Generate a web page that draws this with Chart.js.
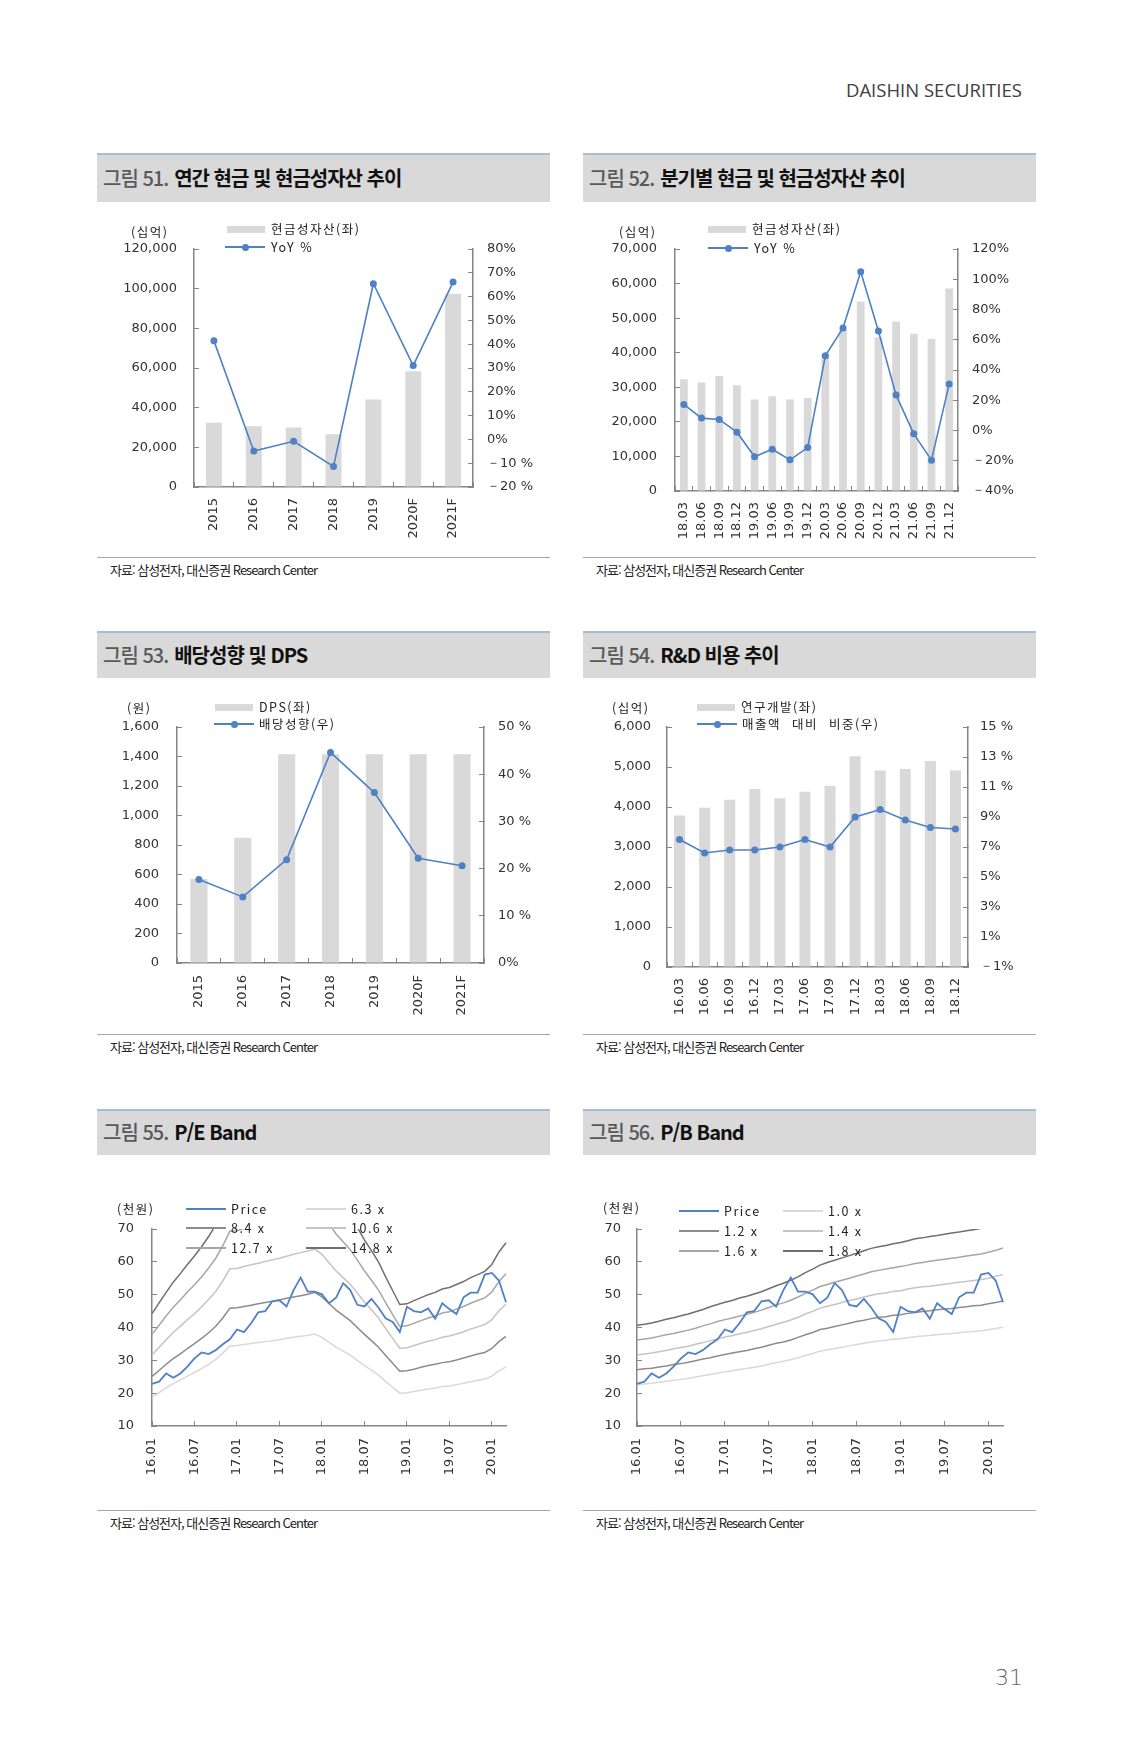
<!DOCTYPE html>
<html lang="ko">
<head>
<meta charset="UTF-8">
<title>삼성전자 현금성자산 · 배당 · R&amp;D · Band</title>
<script src="https://cdn.jsdelivr.net/npm/chart.js"></script>
<style>
  body { margin: 0; background: #fff; }
  #page { position: relative; width: 1123px; height: 1755px; overflow: hidden;
          font-family: "Noto Sans CJK KR", sans-serif; color: #222; }
  .head { position: absolute; left: 846px; top: 77px; font-family: "Open Sans", sans-serif;
          font-size: 18.5px; color: #404040; letter-spacing: 0; }
  .pageno { position: absolute; left: 995px; top: 1665px; font-family: "DejaVu Sans", sans-serif;
            font-size: 22px; color: #666; font-weight: 200; }
  .titlebox { position: absolute; width: 453px; background: #d9d9d9; border-top: 2px solid #a9bcd6;
              box-sizing: border-box; display: flex; align-items: center; padding-left: 6px; padding-bottom: 3px;
              font-size: 20px; font-weight: 700; letter-spacing: -1px; color: #111; }
  .titlebox .n { color: #595959; font-weight: 500; margin-right: 6px; }
  .src { position: absolute; width: 453px; border-top: 1px solid #a6a6a6; }
  .src span { position: absolute; left: 13px; top: 2px; font-size: 13px; letter-spacing: -1px; color: #222; }
  canvas { position: absolute; }
  .lg { position: absolute; font-size: 12.5px; letter-spacing: 1.5px; line-height: 16px; white-space: nowrap; color: #222; }
  .sw { position: absolute; }
</style>
</head>
<body>
<div id="page">
  <div class="head">DAISHIN SECURITIES</div>

  <div class="titlebox" style="left:97px;top:153px;height:49px"><span class="n">그림 51.</span>연간 현금 및 현금성자산 추이</div>
  <div class="titlebox" style="left:583px;top:153px;height:49px"><span class="n">그림 52.</span>분기별 현금 및 현금성자산 추이</div>
  <div class="titlebox" style="left:97px;top:631px;height:47px"><span class="n">그림 53.</span>배당성향 및 DPS</div>
  <div class="titlebox" style="left:583px;top:631px;height:47px"><span class="n">그림 54.</span>R&amp;D 비용 추이</div>
  <div class="titlebox" style="left:97px;top:1109px;height:46px"><span class="n">그림 55.</span>P/E Band</div>
  <div class="titlebox" style="left:583px;top:1109px;height:46px"><span class="n">그림 56.</span>P/B Band</div>

  <canvas id="c51"></canvas>
  <canvas id="c52"></canvas>
  <canvas id="c53"></canvas>
  <canvas id="c54"></canvas>
  <canvas id="c55"></canvas>
  <canvas id="c56"></canvas>

  <div class="src" style="left:97px;top:557px"><span>자료: 삼성전자, 대신증권 Research Center</span></div>
  <div class="src" style="left:583px;top:557px"><span>자료: 삼성전자, 대신증권 Research Center</span></div>
  <div class="src" style="left:97px;top:1034px"><span>자료: 삼성전자, 대신증권 Research Center</span></div>
  <div class="src" style="left:583px;top:1034px"><span>자료: 삼성전자, 대신증권 Research Center</span></div>
  <div class="src" style="left:97px;top:1510px"><span>자료: 삼성전자, 대신증권 Research Center</span></div>
  <div class="src" style="left:583px;top:1510px"><span>자료: 삼성전자, 대신증권 Research Center</span></div>

  <div class="pageno">31</div>
</div>

<script>
// ---- data ----
const years = ['2015', '2016', '2017', '2018', '2019', '2020F', '2021F'];
const cashAnnual = [32400, 30600, 30000, 26600, 44100, 58300, 97400];
const cashAnnualYoy = [41.4, -4.9, -0.8, -11.4, 65.4, 31.0, 66.1];
const ticks51L = ['0', '20,000', '40,000', '60,000', '80,000', '100,000', '120,000'];
const ticks51R = ['－20 %', '－10 %', '0%', '10%', '20%', '30%', '40%', '50%', '60%', '70%', '80%'];

const quarters52 = ['18.03', '18.06', '18.09', '18.12', '19.03', '19.06', '19.09', '19.12',
                    '20.03', '20.06', '20.09', '20.12', '21.03', '21.06', '21.09', '21.12'];
const cashQuarter = [32300, 31400, 33300, 30600, 26500, 27400, 26500, 26900,
                     39600, 46600, 54800, 44500, 49000, 45500, 44000, 58600];
const cashQuarterYoy = [17.2, 8.2, 7.3, -1.1, -17.4, -12.4, -19.4, -11.3,
                        49.4, 67.8, 104.9, 65.8, 23.4, -2.2, -19.6, 30.7];
const ticks52L = ['0', '10,000', '20,000', '30,000', '40,000', '50,000', '60,000', '70,000'];
const ticks52R = ['－40%', '－20%', '0%', '20%', '40%', '60%', '80%', '100%', '120%'];

const dps = [570, 850, 1416, 1416, 1416, 1416, 1416];
const payout = [17.7, 14.0, 21.9, 44.6, 36.1, 22.2, 20.6];
const ticks53L = ['0', '200', '400', '600', '800', '1,000', '1,200', '1,400', '1,600'];
const ticks53R = ['0%', '10 %', '20 %', '30 %', '40 %', '50 %'];

const quarters54 = ['16.03', '16.06', '16.09', '16.12', '17.03', '17.06', '17.09', '17.12',
                    '18.03', '18.06', '18.09', '18.12'];
const rnd = [3790, 3980, 4180, 4450, 4220, 4380, 4530, 5270, 4910, 4950, 5150, 4910];
const rndRatio = [7.5, 6.6, 6.8, 6.8, 7.0, 7.5, 7.0, 9.0, 9.5, 8.8, 8.3, 8.2];
const ticks54L = ['0', '1,000', '2,000', '3,000', '4,000', '5,000', '6,000'];
const ticks54R = ['－1%', '1%', '3%', '5%', '7%', '9%', '11 %', '13 %', '15 %'];

const months = ['16.01', '16.02', '16.03', '16.04', '16.05', '16.06', '16.07', '16.08', '16.09', '16.10', '16.11', '16.12',
                '17.01', '17.02', '17.03', '17.04', '17.05', '17.06', '17.07', '17.08', '17.09', '17.10', '17.11', '17.12',
                '18.01', '18.02', '18.03', '18.04', '18.05', '18.06', '18.07', '18.08', '18.09', '18.10', '18.11', '18.12',
                '19.01', '19.02', '19.03', '19.04', '19.05', '19.06', '19.07', '19.08', '19.09', '19.10', '19.11', '19.12',
                '20.01', '20.02', '20.03'];
const price = [22.8, 23.5, 26.0, 24.7, 26.0, 28.1, 30.6, 32.4, 31.9, 33.1, 34.9, 36.4,
               39.4, 38.6, 41.3, 44.6, 45.0, 48.0, 48.3, 46.4, 51.4, 55.2, 50.9, 50.9,
               50.1, 47.4, 49.1, 53.5, 51.4, 46.9, 46.4, 48.7, 46.0, 42.8, 41.7, 38.6,
               46.3, 45.0, 44.6, 45.8, 42.7, 47.4, 45.6, 44.1, 49.2, 50.6, 50.6, 56.1,
               56.6, 54.3, 47.7];
const pe63 = [18.8, 20.2, 21.6, 22.9, 24.0, 25.2, 26.3, 27.5, 28.8, 30.3, 32.2, 34.4,
              34.5, 34.8, 35.1, 35.4, 35.7, 36.0, 36.3, 36.7, 37.0, 37.3, 37.6, 38.0,
              37.0, 35.5, 34.0, 32.8, 31.6, 30.0, 28.4, 27.0, 25.5, 23.6, 21.8, 20.0,
              20.1, 20.5, 20.9, 21.3, 21.6, 22.0, 22.2, 22.6, 23.0, 23.5, 23.9, 24.3,
              25.2, 26.8, 28.0];
const pe84 = [25.1, 26.9, 28.8, 30.5, 32.0, 33.6, 35.1, 36.7, 38.4, 40.4, 42.9, 45.9,
              46.0, 46.4, 46.8, 47.2, 47.6, 48.0, 48.4, 48.9, 49.3, 49.7, 50.1, 50.7,
              49.3, 47.3, 45.3, 43.7, 42.1, 40.0, 37.9, 36.0, 34.0, 31.5, 29.1, 26.7,
              26.8, 27.3, 27.9, 28.4, 28.8, 29.3, 29.6, 30.1, 30.7, 31.3, 31.9, 32.4,
              33.6, 35.7, 37.3];
const pe106 = [31.6, 34.0, 36.3, 38.5, 40.4, 42.4, 44.2, 46.3, 48.5, 51.0, 54.2, 57.9,
               58.0, 58.6, 59.1, 59.6, 60.1, 60.6, 61.1, 61.7, 62.3, 62.8, 63.3, 63.9,
               62.3, 59.7, 57.2, 55.2, 53.2, 50.5, 47.8, 45.4, 42.9, 39.7, 36.7, 33.7,
               33.8, 34.5, 35.2, 35.8, 36.3, 37.0, 37.4, 38.0, 38.7, 39.5, 40.2, 40.9,
               42.4, 45.1, 47.1];
const pe127 = [37.9, 40.7, 43.5, 46.2, 48.4, 50.8, 53.0, 55.4, 58.1, 61.1, 64.9, 69.3,
               69.5, 70.2, 70.8, 71.4, 72.0, 72.6, 73.2, 74.0, 74.6, 75.2, 75.8, 76.6,
               74.6, 71.6, 68.5, 66.1, 63.7, 60.5, 57.3, 54.4, 51.4, 47.6, 43.9, 40.3,
               40.5, 41.3, 42.1, 42.9, 43.5, 44.4, 44.8, 45.6, 46.4, 47.4, 48.2, 49.0,
               50.8, 54.0, 56.4];
const pe148 = [44.2, 47.5, 50.7, 53.8, 56.4, 59.2, 61.8, 64.6, 67.7, 71.2, 75.6, 80.8,
               81.0, 81.8, 82.5, 83.2, 83.9, 84.6, 85.3, 86.2, 86.9, 87.6, 88.3, 89.3,
               86.9, 83.4, 79.9, 77.1, 74.2, 70.5, 66.7, 63.4, 59.9, 55.4, 51.2, 47.0,
               47.2, 48.2, 49.1, 50.0, 50.7, 51.7, 52.2, 53.1, 54.0, 55.2, 56.1, 57.1,
               59.2, 63.0, 65.8];
const pb10 = [22.6, 22.8, 23.0, 23.3, 23.6, 23.9, 24.2, 24.5, 24.9, 25.3, 25.7, 26.1,
              26.5, 26.8, 27.2, 27.5, 27.9, 28.3, 28.8, 29.3, 29.7, 30.2, 30.8, 31.5,
              32.1, 32.8, 33.2, 33.6, 34.0, 34.4, 34.8, 35.2, 35.6, 35.9, 36.1, 36.4,
              36.6, 36.9, 37.2, 37.4, 37.6, 37.8, 38.0, 38.2, 38.4, 38.6, 38.8, 39.0,
              39.3, 39.7, 40.1];
const pb12 = [27.1, 27.4, 27.6, 28.0, 28.3, 28.7, 29.0, 29.4, 29.9, 30.4, 30.8, 31.3,
              31.8, 32.2, 32.6, 33.0, 33.5, 34.0, 34.6, 35.2, 35.6, 36.2, 37.0, 37.8,
              38.5, 39.4, 39.8, 40.3, 40.8, 41.3, 41.8, 42.2, 42.7, 43.1, 43.3, 43.7,
              43.9, 44.3, 44.6, 44.9, 45.1, 45.4, 45.6, 45.8, 46.1, 46.3, 46.6, 46.8,
              47.2, 47.6, 48.1];
const pb14 = [31.6, 31.9, 32.2, 32.6, 33.0, 33.5, 33.9, 34.3, 34.9, 35.4, 36.0, 36.5,
              37.1, 37.5, 38.1, 38.5, 39.1, 39.6, 40.3, 41.0, 41.6, 42.3, 43.1, 44.1,
              44.9, 45.9, 46.5, 47.0, 47.6, 48.2, 48.7, 49.3, 49.8, 50.3, 50.5, 51.0,
              51.2, 51.7, 52.1, 52.4, 52.6, 52.9, 53.2, 53.5, 53.8, 54.0, 54.3, 54.6,
              55.0, 55.6, 56.1];
const pb16 = [36.2, 36.5, 36.8, 37.3, 37.8, 38.2, 38.7, 39.2, 39.8, 40.5, 41.1, 41.8,
              42.4, 42.9, 43.5, 44.0, 44.6, 45.3, 46.1, 46.9, 47.5, 48.3, 49.3, 50.4,
              51.4, 52.5, 53.1, 53.8, 54.4, 55.0, 55.7, 56.3, 57.0, 57.4, 57.8, 58.2,
              58.6, 59.0, 59.5, 59.8, 60.2, 60.5, 60.8, 61.1, 61.4, 61.8, 62.1, 62.4,
              62.9, 63.5, 64.2];
const pb18 = [40.7, 41.0, 41.4, 41.9, 42.5, 43.0, 43.6, 44.1, 44.8, 45.5, 46.3, 47.0,
              47.7, 48.2, 49.0, 49.5, 50.2, 50.9, 51.8, 52.7, 53.5, 54.4, 55.4, 56.7,
              57.8, 59.0, 59.8, 60.5, 61.2, 61.9, 62.6, 63.4, 64.1, 64.6, 65.0, 65.5,
              65.9, 66.4, 67.0, 67.3, 67.7, 68.0, 68.4, 68.8, 69.1, 69.5, 69.8, 70.2,
              70.7, 71.5, 72.2];
const ticksBand = ['10', '20', '30', '40', '50', '60', '70'];

// ---- styles ----
Chart.defaults.font.family = '"DejaVu Sans", sans-serif';
Chart.defaults.font.size = 13;
Chart.defaults.color = '#333';
const AXIS = '#868686';
const BLUE = '#4f81c4';
const BAR = '#d9d9d9';
const bandColors = ['#d9d9d9', '#8c8c8c', '#c4c4c4', '#a6a6a6', '#6f6f6f'];

function setCanvas(id, box) {
  const c = document.getElementById(id);
  c.width = box.w;
  c.height = box.h;
  Object.assign(c.style, { left: box.x + 'px', top: box.y + 'px', width: box.w + 'px', height: box.h + 'px' });
  return c;
}

function yAxis(pos, width, min, max, step, labels, gap) {
  return {
    position: pos, min: min, max: max,
    ticks: { stepSize: step, padding: gap + 5, callback: (v, i) => labels[i] },
    grid: { drawOnChartArea: false, tickLength: -5, color: AXIS, lineWidth: 1 },
    border: { color: AXIS, width: 1.5 },
    afterFit: s => { s.width = width; }
  };
}

function xAxis(height, gap, gridColor) {
  return {
    ticks: { minRotation: 90, maxRotation: 90, autoSkip: false, padding: gap + 5 },
    grid: { drawOnChartArea: false, tickLength: -5, color: gridColor || AXIS, lineWidth: 1 },
    border: { color: AXIS, width: 1.5 },
    afterFit: s => { s.height = height; }
  };
}

// bars on the left axis, ratio line on the right axis
function barLine(id, box, plot, d) {
  setCanvas(id, box);
  new Chart(document.getElementById(id), {
    type: 'bar',
    data: {
      labels: d.labels,
      datasets: [
        { type: 'line', data: d.line, yAxisID: 'y1', order: 0, borderColor: BLUE, borderWidth: 1.6,
          pointRadius: 3.5, pointBackgroundColor: BLUE, pointBorderWidth: 0, tension: 0 },
        { type: 'bar', data: d.bars, yAxisID: 'y', order: 1, backgroundColor: BAR,
          barPercentage: d.barPct, categoryPercentage: 1 }
      ]
    },
    options: {
      responsive: false, animation: false,
      layout: { padding: { top: plot.t - box.y, left: 0, right: 0, bottom: 0 } },
      plugins: { legend: { display: false }, tooltip: { enabled: false } },
      scales: {
        x: xAxis(box.y + box.h - plot.b, d.xGap),
        y: yAxis('left', plot.l - box.x, d.left[0], d.left[1], d.left[2], d.left[3], d.leftGap),
        y1: yAxis('right', box.x + box.w - plot.r, d.right[0], d.right[1], d.right[2], d.right[3], d.rightGap)
      }
    }
  });
}

function band(id, box, plot, series) {
  setCanvas(id, box);
  const sets = series.map((s, i) => ({
    data: s, borderColor: bandColors[i], borderWidth: 1.5, pointRadius: 0, tension: 0, order: 1
  }));
  sets.push({ data: price, borderColor: BLUE, borderWidth: 1.8, pointRadius: 0, tension: 0, order: 0 });
  const xa = xAxis(box.y + box.h - plot.b, 12, ctx => ctx.index % 6 === 0 ? AXIS : 'rgba(0,0,0,0)');
  xa.ticks.callback = (v, i) => (i % 6 === 0 ? months[i] : '');
  new Chart(document.getElementById(id), {
    type: 'line',
    data: { labels: months, datasets: sets },
    options: {
      responsive: false, animation: false,
      layout: { padding: { top: plot.t - box.y, left: 0, right: box.x + box.w - plot.r, bottom: 0 } },
      plugins: { legend: { display: false }, tooltip: { enabled: false } },
      scales: {
        x: xa,
        y: yAxis('left', plot.l - box.x, 10, 70, 10, ticksBand, plot.gap)
      }
    }
  });
}

barLine('c51', { x: 97, y: 205, w: 453, h: 345 }, { l: 194, r: 473, t: 249, b: 487 }, {
  labels: years, bars: cashAnnual, line: cashAnnualYoy, barPct: 0.4,
  left: [0, 120000, 20000, ticks51L], right: [-20, 80, 10, ticks51R],
  leftGap: 17, rightGap: 14, xGap: 11
});
barLine('c52', { x: 583, y: 205, w: 453, h: 345 }, { l: 675, r: 958, t: 249, b: 491 }, {
  labels: quarters52, bars: cashQuarter, line: cashQuarterYoy, barPct: 0.44,
  left: [0, 70000, 10000, ticks52L], right: [-40, 120, 20, ticks52R],
  leftGap: 18, rightGap: 14, xGap: 11
});
barLine('c53', { x: 97, y: 683, w: 453, h: 345 }, { l: 177, r: 484, t: 727, b: 963 }, {
  labels: years, bars: dps, line: payout, barPct: 0.39,
  left: [0, 1600, 200, ticks53L], right: [0, 50, 10, ticks53R],
  leftGap: 18, rightGap: 14, xGap: 12
});
barLine('c54', { x: 583, y: 683, w: 453, h: 345 }, { l: 667, r: 968, t: 727, b: 967 }, {
  labels: quarters54, bars: rnd, line: rndRatio, barPct: 0.44,
  left: [0, 6000, 1000, ticks54L], right: [-1, 15, 2, ticks54R],
  leftGap: 16, rightGap: 12, xGap: 11
});
band('c55', { x: 97, y: 1160, w: 453, h: 345 }, { l: 152, r: 506, t: 1229, b: 1426, gap: 18 },
     [pe63, pe84, pe106, pe127, pe148]);
band('c56', { x: 583, y: 1160, w: 453, h: 345 }, { l: 637, r: 1003, t: 1229, b: 1426, gap: 16 },
     [pb10, pb12, pb14, pb16, pb18]);

// ---- legends and unit labels (html text) ----
const page = document.getElementById('page');
function text(x, y, s, extra) {
  const d = document.createElement('div');
  d.className = 'lg';
  d.style.left = x + 'px';
  d.style.top = (y - 8) + 'px';
  if (extra) Object.assign(d.style, extra);
  d.textContent = s;
  page.appendChild(d);
}
function swatch(x, y, w, h, color, radius) {
  const d = document.createElement('div');
  d.className = 'sw';
  Object.assign(d.style, { left: x + 'px', top: (y - h / 2) + 'px', width: w + 'px', height: h + 'px',
                           background: color, borderRadius: radius || 0 });
  page.appendChild(d);
}
function barKey(x, y, label) { swatch(x, y, 38, 7, BAR); text(x + 44, y, label); }
function lineKey(x, y, color, label, dot, tx, w, extra) {
  swatch(x, y, w || 40, 1.6, color);
  if (dot) swatch(x + (w || 40) / 2 - 3.5, y, 7, 7, color, '50%');
  text(tx, y, label, extra);
}

text(131, 232, '(십억)');
barKey(227, 229, '현금성자산(좌)');
lineKey(225, 247, BLUE, 'YoY %', true, 271);

text(619, 232, '(십억)');
barKey(708, 229, '현금성자산(좌)');
lineKey(708, 248, BLUE, 'YoY %', true, 754);

text(127, 708, '(원)');
barKey(215, 707, 'DPS(좌)');
lineKey(214, 724, BLUE, '배당성향(우)', true, 259);

text(612, 708, '(십억)');
barKey(697, 707, '연구개발(좌)');
lineKey(697, 724, BLUE, '매출액 대비 비중(우)', true, 742, 40, { wordSpacing: '6px' });

const peNames = ['6.3 x', '8.4 x', '10.6 x', '12.7 x', '14.8 x'];
const pbNames = ['1.0 x', '1.2 x', '1.4 x', '1.6 x', '1.8 x'];
function bandLegend(unitX, unitY, rows, c1, c2, names) {
  text(unitX, unitY, '(천원)');
  const items = [['Price', BLUE]].concat(names.map((n, i) => [n, bandColors[i]]));
  items.forEach((it, i) => {
    const col = i % 2 === 0 ? c1 : c2;
    const row = rows[Math.floor(i / 2)];
    lineKey(col, row, it[1], it[0], false, col + 45, 40);
  });
}
bandLegend(117, 1209, [1209, 1228, 1248], 186, 306, peNames);
bandLegend(603, 1208, [1211, 1231, 1251], 679, 783, pbNames);
</script>
</body>
</html>
